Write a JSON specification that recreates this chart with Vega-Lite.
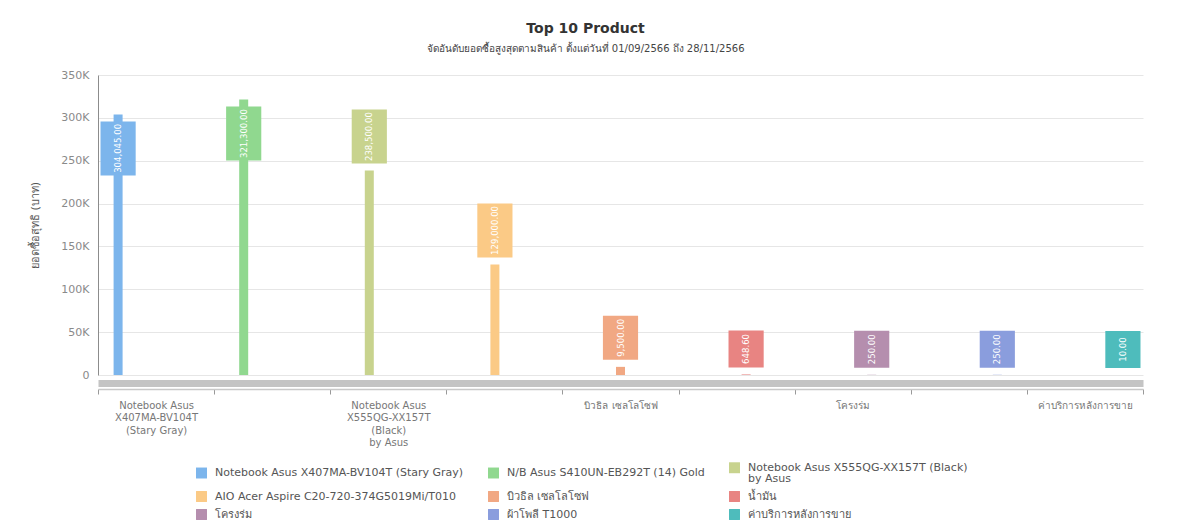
{
  "$schema": "https://vega.github.io/schema/vega-lite/v6.json",
  "autosize": {"type": "none"},
  "width": 1045,
  "height": 300,
  "padding": {"left": 98, "top": 75, "right": 41, "bottom": 154},
  "background": "#ffffff",
  "config": {
    "font": "DejaVu Sans",
    "view": {"stroke": null},
    "axisY": {"gridColor": "#e6e6e6", "gridWidth": 1}
  },
  "title": {
    "text": "Top 10 Product",
    "subtitle": "จัดอันดับยอดซื้อสูงสุดตามสินค้า ตั้งแต่วันที่ 01/09/2566 ถึง 28/11/2566",
    "fontSize": 14,
    "fontWeight": 600,
    "color": "#333333",
    "subtitleFontSize": 10,
    "subtitleColor": "#444444",
    "subtitlePadding": 8,
    "offset": 15,
    "anchor": "middle",
    "frame": "group",
    "dx": -35
  },
  "data": {
    "values": [
      {"name": "Notebook Asus X407MA-BV104T (Stary Gray)", "value": 304045},
      {"name": "N/B Asus S410UN-EB292T (14) Gold", "value": 321300},
      {"name": "Notebook Asus X555QG-XX157T (Black) by Asus", "value": 238500},
      {"name": "AIO Acer Aspire C20-720-374G5019Mi/T010", "value": 129000},
      {"name": "บิวธิล เซลโลโซฟ", "value": 9500},
      {"name": "น้ำมัน", "value": 648.6},
      {"name": "โครงร่ม", "value": 250},
      {"name": "ผ้าโพลี T1000", "value": 250},
      {"name": "ค่าบริการหลังการขาย", "value": 10}
    ]
  },
  "encoding": {
    "y": {
      "field": "value",
      "type": "quantitative",
      "scale": {"domain": [0, 350000], "nice": false},
      "axis": {
        "title": "ยอดซื้อสุทธิ (บาท)",
        "titleFontSize": 11,
        "titleFontWeight": "normal",
        "titleColor": "#555555",
        "titlePadding": 20,
        "values": [0, 50000, 100000, 150000, 200000, 250000, 300000, 350000],
        "labelExpr": "datum.value == 0 ? '0' : format(datum.value / 1000, 'd') + 'K'",
        "labelFontSize": 11,
        "labelColor": "#8a8a8a",
        "labelPadding": 9,
        "ticks": false,
        "domain": true,
        "domainColor": "#8c8c8c",
        "grid": true
      }
    },
    "color": {
      "field": "name",
      "type": "nominal",
      "sort": null,
      "scale": {
        "domain": [
          "Notebook Asus X407MA-BV104T (Stary Gray)",
          "N/B Asus S410UN-EB292T (14) Gold",
          "Notebook Asus X555QG-XX157T (Black) by Asus",
          "AIO Acer Aspire C20-720-374G5019Mi/T010",
          "บิวธิล เซลโลโซฟ",
          "น้ำมัน",
          "โครงร่ม",
          "ผ้าโพลี T1000",
          "ค่าบริการหลังการขาย"
        ],
        "range": ["#7cb5ec", "#90d88f", "#c8d38e", "#fbca86", "#f1a883", "#e88482", "#b58eae", "#8a9ddd", "#4ebcbc"]
      },
      "legend": {
        "title": null,
        "orient": "none",
        "legendX": 98,
        "legendY": 387,
        "columns": 3,
        "direction": "horizontal",
        "symbolType": "square",
        "symbolSize": 120,
        "symbolStrokeWidth": 0,
        "labelOffset": 8,
        "columnPadding": 24,
        "rowPadding": 6,
        "labelFontSize": 11,
        "labelColor": "#555555",
        "labelLimit": 400,
        "labelExpr": "datum.label == 'Notebook Asus X555QG-XX157T (Black) by Asus' ? ['Notebook Asus X555QG-XX157T (Black)', 'by Asus'] : datum.label",
        "encode": {"labels": {"update": {"lineHeight": {"value": 11}}}}
      }
    }
  },
  "resolve": {"scale": {"x": "independent"}, "axis": {"x": "independent"}},
  "layer": [
    {
      "mark": {"type": "bar", "width": 9},
      "encoding": {
        "x": {
          "field": "name", "type": "nominal", "sort": null,
          "scale": {"type": "band", "domain": ["Notebook Asus X407MA-BV104T (Stary Gray)", "N/B Asus S410UN-EB292T (14) Gold", "Notebook Asus X555QG-XX157T (Black) by Asus", "AIO Acer Aspire C20-720-374G5019Mi/T010", "บิวธิล เซลโลโซฟ", "น้ำมัน", "โครงร่ม", "ผ้าโพลี T1000", "ค่าบริการหลังการขาย"], "paddingInner": 0.72, "paddingOuter": 0.02},
          "axis": {"orient": "bottom", "title": null, "labels": false, "ticks": false, "grid": false, "domain": true, "domainColor": "#c4c4c4", "domainWidth": 7, "offset": 8}
        }
      }
    },
    {
      "mark": {"type": "tick", "opacity": 0},
      "encoding": {
        "x": {
          "field": "name", "type": "nominal", "sort": null,
          "scale": {"type": "band", "domain": ["Notebook Asus X407MA-BV104T (Stary Gray)", "N/B Asus S410UN-EB292T (14) Gold", "Notebook Asus X555QG-XX157T (Black) by Asus", "AIO Acer Aspire C20-720-374G5019Mi/T010", "บิวธิล เซลโลโซฟ", "น้ำมัน", "โครงร่ม", "ผ้าโพลี T1000", "ค่าบริการหลังการขาย"], "paddingInner": 0, "paddingOuter": 0},
          "axis": {
            "orient": "bottom",
            "title": null,
            "offset": 14,
            "grid": false,
            "domain": true,
            "domainColor": "#c8c8c8",
            "domainWidth": 1.5,
            "ticks": true,
            "tickBand": "extent",
            "tickColor": "#999999",
            "tickSize": 5,
            "labelAngle": 0,
            "labelPadding": 6,
            "labelFontSize": 10,
            "labelColor": "#777777",
            "labelLineHeight": 12.5,
            "labelOverlap": false,
            "labelLimit": 300,
            "labelExpr": "datum.label == 'Notebook Asus X407MA-BV104T (Stary Gray)' ? ['Notebook Asus', 'X407MA-BV104T', '(Stary Gray)'] : datum.label == 'Notebook Asus X555QG-XX157T (Black) by Asus' ? ['Notebook Asus', 'X555QG-XX157T', '(Black)', 'by Asus'] : (datum.label == 'บิวธิล เซลโลโซฟ' || datum.label == 'โครงร่ม' || datum.label == 'ค่าบริการหลังการขาย') ? datum.label : ''"
          }
        }
      }
    },
    {
      "transform": [{"filter": "datum.value > 300000"}],
      "mark": {"type": "bar", "yOffset": 7, "y2Offset": 61},
      "encoding": {
        "x": {"field": "name", "type": "nominal", "sort": null, "scale": {"type": "band", "domain": ["Notebook Asus X407MA-BV104T (Stary Gray)", "N/B Asus S410UN-EB292T (14) Gold", "Notebook Asus X555QG-XX157T (Black) by Asus", "AIO Acer Aspire C20-720-374G5019Mi/T010", "บิวธิล เซลโลโซฟ", "น้ำมัน", "โครงร่ม", "ผ้าโพลี T1000", "ค่าบริการหลังการขาย"], "paddingInner": 0.72, "paddingOuter": 0.02}, "axis": null},
        "y2": {"field": "value"}
      }
    },
    {
      "transform": [{"filter": "datum.value > 300000"}],
      "mark": {"type": "text", "angle": 270, "align": "center", "baseline": "middle", "yOffset": 34, "fontSize": 9.5, "font": "Liberation Sans Narrow, DejaVu Sans Condensed, sans-serif"},
      "encoding": {
        "x": {"field": "name", "type": "nominal", "sort": null, "scale": {"type": "band", "domain": ["Notebook Asus X407MA-BV104T (Stary Gray)", "N/B Asus S410UN-EB292T (14) Gold", "Notebook Asus X555QG-XX157T (Black) by Asus", "AIO Acer Aspire C20-720-374G5019Mi/T010", "บิวธิล เซลโลโซฟ", "น้ำมัน", "โครงร่ม", "ผ้าโพลี T1000", "ค่าบริการหลังการขาย"], "paddingInner": 0.72, "paddingOuter": 0.02}, "axis": null},
        "text": {"field": "value", "type": "quantitative", "format": ",.2f"},
        "color": {"value": "#ffffff"}
      }
    },
    {
      "transform": [{"filter": "datum.value >= 100000 && datum.value <= 300000"}],
      "mark": {"type": "bar", "yOffset": -7, "y2Offset": -61},
      "encoding": {
        "x": {"field": "name", "type": "nominal", "sort": null, "scale": {"type": "band", "domain": ["Notebook Asus X407MA-BV104T (Stary Gray)", "N/B Asus S410UN-EB292T (14) Gold", "Notebook Asus X555QG-XX157T (Black) by Asus", "AIO Acer Aspire C20-720-374G5019Mi/T010", "บิวธิล เซลโลโซฟ", "น้ำมัน", "โครงร่ม", "ผ้าโพลี T1000", "ค่าบริการหลังการขาย"], "paddingInner": 0.72, "paddingOuter": 0.02}, "axis": null},
        "y2": {"field": "value"}
      }
    },
    {
      "transform": [{"filter": "datum.value >= 100000 && datum.value <= 300000"}],
      "mark": {"type": "text", "angle": 270, "align": "center", "baseline": "middle", "yOffset": -34, "fontSize": 9.5, "font": "Liberation Sans Narrow, DejaVu Sans Condensed, sans-serif"},
      "encoding": {
        "x": {"field": "name", "type": "nominal", "sort": null, "scale": {"type": "band", "domain": ["Notebook Asus X407MA-BV104T (Stary Gray)", "N/B Asus S410UN-EB292T (14) Gold", "Notebook Asus X555QG-XX157T (Black) by Asus", "AIO Acer Aspire C20-720-374G5019Mi/T010", "บิวธิล เซลโลโซฟ", "น้ำมัน", "โครงร่ม", "ผ้าโพลี T1000", "ค่าบริการหลังการขาย"], "paddingInner": 0.72, "paddingOuter": 0.02}, "axis": null},
        "text": {"field": "value", "type": "quantitative", "format": ",.2f"},
        "color": {"value": "#ffffff"}
      }
    },
    {
      "transform": [{"filter": "datum.value >= 1000 && datum.value < 100000"}],
      "mark": {"type": "bar", "yOffset": -7, "y2Offset": -51},
      "encoding": {
        "x": {"field": "name", "type": "nominal", "sort": null, "scale": {"type": "band", "domain": ["Notebook Asus X407MA-BV104T (Stary Gray)", "N/B Asus S410UN-EB292T (14) Gold", "Notebook Asus X555QG-XX157T (Black) by Asus", "AIO Acer Aspire C20-720-374G5019Mi/T010", "บิวธิล เซลโลโซฟ", "น้ำมัน", "โครงร่ม", "ผ้าโพลี T1000", "ค่าบริการหลังการขาย"], "paddingInner": 0.72, "paddingOuter": 0.02}, "axis": null},
        "y2": {"field": "value"}
      }
    },
    {
      "transform": [{"filter": "datum.value >= 1000 && datum.value < 100000"}],
      "mark": {"type": "text", "angle": 270, "align": "center", "baseline": "middle", "yOffset": -29, "fontSize": 9.5, "font": "Liberation Sans Narrow, DejaVu Sans Condensed, sans-serif"},
      "encoding": {
        "x": {"field": "name", "type": "nominal", "sort": null, "scale": {"type": "band", "domain": ["Notebook Asus X407MA-BV104T (Stary Gray)", "N/B Asus S410UN-EB292T (14) Gold", "Notebook Asus X555QG-XX157T (Black) by Asus", "AIO Acer Aspire C20-720-374G5019Mi/T010", "บิวธิล เซลโลโซฟ", "น้ำมัน", "โครงร่ม", "ผ้าโพลี T1000", "ค่าบริการหลังการขาย"], "paddingInner": 0.72, "paddingOuter": 0.02}, "axis": null},
        "text": {"field": "value", "type": "quantitative", "format": ",.2f"},
        "color": {"value": "#ffffff"}
      }
    },
    {
      "transform": [{"filter": "datum.value < 1000"}],
      "mark": {"type": "bar", "yOffset": -7, "y2Offset": -44},
      "encoding": {
        "x": {"field": "name", "type": "nominal", "sort": null, "scale": {"type": "band", "domain": ["Notebook Asus X407MA-BV104T (Stary Gray)", "N/B Asus S410UN-EB292T (14) Gold", "Notebook Asus X555QG-XX157T (Black) by Asus", "AIO Acer Aspire C20-720-374G5019Mi/T010", "บิวธิล เซลโลโซฟ", "น้ำมัน", "โครงร่ม", "ผ้าโพลี T1000", "ค่าบริการหลังการขาย"], "paddingInner": 0.72, "paddingOuter": 0.02}, "axis": null},
        "y2": {"field": "value"}
      }
    },
    {
      "transform": [{"filter": "datum.value < 1000"}],
      "mark": {"type": "text", "angle": 270, "align": "center", "baseline": "middle", "yOffset": -25.5, "fontSize": 9.5, "font": "Liberation Sans Narrow, DejaVu Sans Condensed, sans-serif"},
      "encoding": {
        "x": {"field": "name", "type": "nominal", "sort": null, "scale": {"type": "band", "domain": ["Notebook Asus X407MA-BV104T (Stary Gray)", "N/B Asus S410UN-EB292T (14) Gold", "Notebook Asus X555QG-XX157T (Black) by Asus", "AIO Acer Aspire C20-720-374G5019Mi/T010", "บิวธิล เซลโลโซฟ", "น้ำมัน", "โครงร่ม", "ผ้าโพลี T1000", "ค่าบริการหลังการขาย"], "paddingInner": 0.72, "paddingOuter": 0.02}, "axis": null},
        "text": {"field": "value", "type": "quantitative", "format": ",.2f"},
        "color": {"value": "#ffffff"}
      }
    }
  ]
}
